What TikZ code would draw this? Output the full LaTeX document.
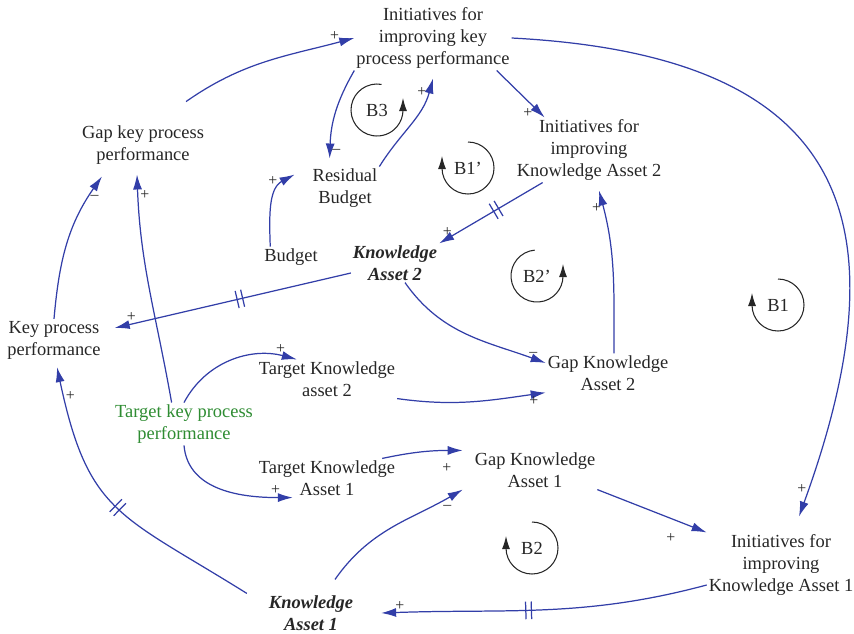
\documentclass[tikz,border=0pt]{standalone}
\usepackage{fontspec}
\setmainfont{Liberation Serif}
\usetikzlibrary{arrows.meta,decorations.markings}
\definecolor{linkblue}{RGB}{50,62,168}
\definecolor{targetgreen}{RGB}{46,140,50}
\tikzset{
  var/.style={align=center,inner sep=1pt,text=black!85,font=\fontsize{10.5}{12.5}\selectfont},
  stock/.style={var,font=\fontsize{10.5}{12.5}\selectfont\bfseries\itshape},
  link/.style={draw=linkblue,line width=0.7pt,-{Latex[length=3mm,width=1.8mm]}},
  sign/.style={inner sep=1pt,text=black!85,font=\small},
  delay/.style={postaction={decorate,decoration={markings,mark=at position #1 with
    {\draw[linkblue,line width=0.7pt,-] (-1.6pt,-5pt) -- (-1.6pt,5pt) (1.6pt,-5pt) -- (1.6pt,5pt);}}}},
  loopmark/.style={draw=black!85,line width=0.6pt,-{Latex[length=2.6mm,width=1.6mm]}},
}
\begin{document}
\begin{tikzpicture}[x=0.02cm,y=0.02cm]
  \useasboundingbox (0,0) rectangle (854,-633);

  \node[var] (initKPP) at (433,-38) {Initiatives for\\improving key\\process performance};
  \node[var] (initKA2) at (589,-150) {Initiatives for\\improving\\Knowledge Asset 2};
  \node[var] (gapKPP) at (143,-145) {Gap key process\\performance};
  \node[var] (residual) at (345,-188) {Residual\\Budget};
  \node[var] (budget) at (291,-257) {Budget};
  \node[stock] (ka2) at (395,-263) {Knowledge\\Asset 2};
  \node[var] (kpp) at (54,-340) {Key process\\performance};
  \node[var] (tka2) at (327,-379) {Target Knowledge\\asset 2};
  \node[var,text=targetgreen] (tkpp) at (184,-424) {Target key process\\performance};
  \node[var] (gka2) at (608,-373) {Gap Knowledge\\Asset 2};
  \node[var] (tka1) at (327,-478) {Target Knowledge\\Asset 1};
  \node[var] (gka1) at (535,-470) {Gap Knowledge\\Asset 1};
  \node[var] (initKA1) at (781,-565) {Initiatives for\\improving\\Knowledge Asset 1};
  \node[stock] (ka1) at (311,-613) {Knowledge\\Asset 1};

  \draw[link] ([shift={(-20,22)}]gapKPP.north east) to[out=35,in=195]
    node[sign,pos=.9,above] (s1) {+} (initKPP.west);
  \draw[link] (initKPP.south west) to[out=240,in=88]
    node[sign,pos=.93,right] (s2) {--} ([shift={(19,8)}]residual.north west);
  \draw[link] (residual.north east) to[out=58,in=255]
    node[sign,pos=.88,left] (s3) {+} ([shift={(0,-8)}]initKPP.south);
  \draw[link] ([shift={(-15,0)}]initKPP.south east) --
    node[sign,pos=.9,left=3pt] (s4) {+} ([shift={(30,0)}]initKA2.north west);
  \draw[link,delay=.45] ([shift={(28,0)}]initKA2.south west) --
    node[sign,pos=.92,above] (s5) {+} (ka2.north east);
  \draw[link] (initKPP.east) to[out=-3,in=70,looseness=1.5]
    node[sign,pos=.97,left] (s6) {+} ([shift={(18,16)}]initKA1.north);
  \draw[link] ([shift={(8,0)}]budget.north west) to[out=92,in=208]
    node[sign,pos=.75,above left] (s7) {+} ([shift={(-16,-8)}]residual.north west);
  \draw[link,delay=.47] ([shift={(0,-10)}]ka2.west) --
    node[sign,pos=.93,above] (s8) {+} ([shift={(12,12)}]kpp.east);
  \draw[link] ([shift={(10,0)}]ka2.south) to[out=-55,in=160]
    node[sign,pos=.93,above] (s9) {--} ([shift={(0,10)}]gka2.west);
  \draw[link] ([shift={(6,0)}]gka2.north) to[out=90,in=-75]
    node[sign,pos=.9,left] (s10) {+} ([shift={(10,-8)}]initKA2.south);
  \draw[link] (tka2.south east) to[out=-8,in=188]
    node[sign,pos=.93,below] (s11) {+} (gka2.south west);
  \draw[link] (tkpp.north) to[out=62,in=165]
    node[sign,pos=.88,above] (s12) {+} ([shift={(40,0)}]tka2.north west);
  \draw[link] (tkpp.120) to[out=100,in=-88]
    node[sign,pos=.92,right] (s13) {+} ([shift={(-6,-8)}]gapKPP.south);
  \draw[link] (kpp.north) to[out=85,in=235]
    node[sign,pos=.85,right] (s14) {--} ([shift={(22,-10)}]gapKPP.south west);
  \draw[link] (tkpp.south) to[out=-85,in=180]
    node[sign,pos=.88,above] (s15) {+} ([shift={(36,0)}]tka1.south west);
  \draw[link] ([shift={(-15,0)}]tka1.north east) to[out=12,in=180]
    node[sign,pos=.82,below=6pt] (s16) {+} ([shift={(-10,0)}]gka1.north west);
  \draw[link] ([shift={(24,14)}]ka1.north) to[out=55,in=210]
    node[sign,pos=.9,below=3pt] (s17) {--} ([shift={(-10,0)}]gka1.south west);
  \draw[link] (gka1.south east) --
    node[sign,pos=.8,below left=4pt] (s18) {+} (initKA1.north west);
  \draw[link,delay=.55] ([shift={(0,-20)}]initKA1.west) to[out=195,in=2]
    node[sign,pos=.95,above] (s19) {+} ([shift={(26,0)}]ka1.east);
  \draw[link,delay=.5] ([shift={(-20,0)}]ka1.north west) to[out=148,in=-78,looseness=1.3]
    node[sign,pos=.93,right] (s20) {+} ([shift={(3,-6)}]kpp.south);

  \foreach \n/\x/\y/\a/\b/\txt in {b3/377/110/80/360/B3, b1p/468/168/90/-180/B1',
      b2p/537/276/95/360/B2', b1/778/305/90/-180/B1, b2/532/548/90/-180/B2}
  {
    \node[var] (\n) at (\x,-\y) {\txt};
    \draw[loopmark] (\n.center) ++(\a:26) arc[start angle=\a,end angle=\b,radius=26] -- ++(0,12);
  }
\end{tikzpicture}
\end{document}
